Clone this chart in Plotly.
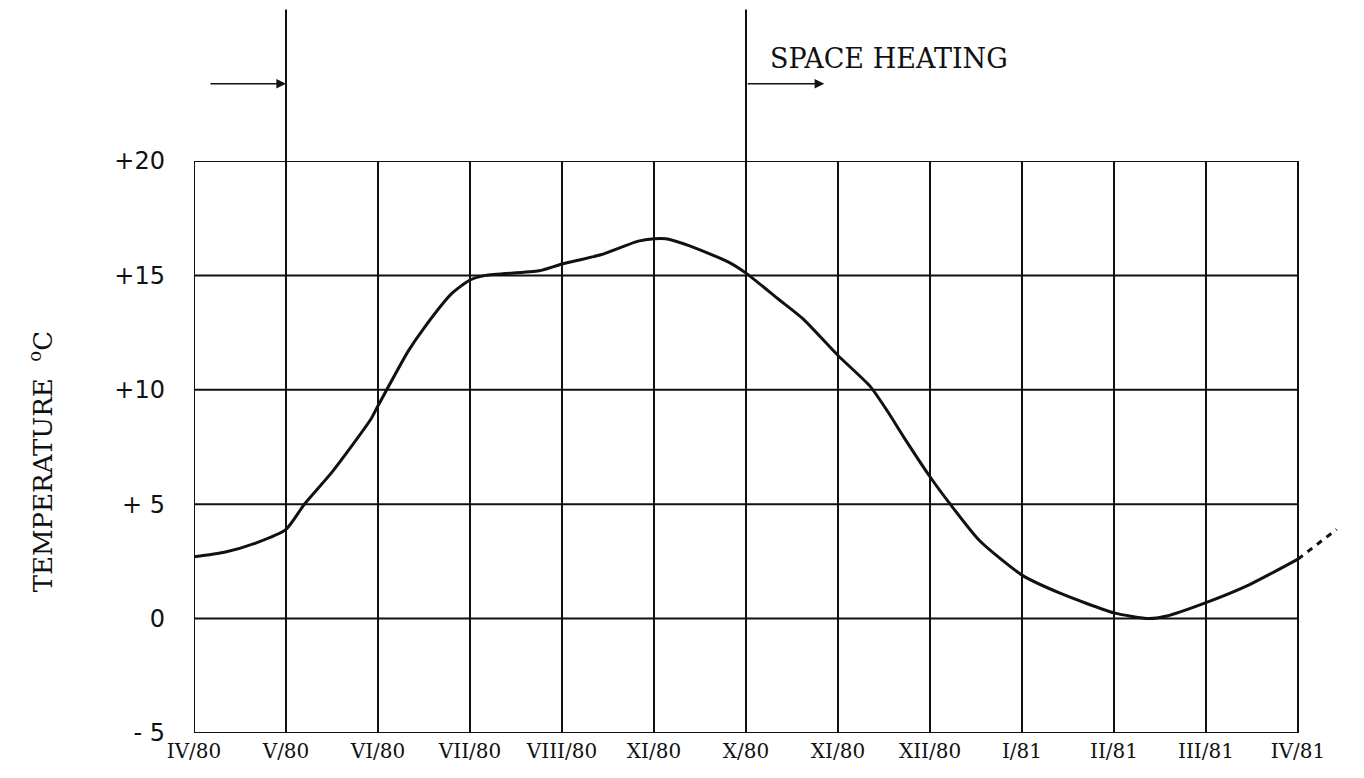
import plotly.graph_objects as go

# ---- data ----
months = ["IV/80", "V/80", "VI/80", "VII/80", "VIII/80", "XI/80", "X/80",
          "XI/80", "XII/80", "I/81", "II/81", "III/81", "IV/81"]
month_pos = list(range(len(months)))

y_ticks = [-5, 0, 5, 10, 15, 20]
y_tick_text = ["- 5", "0", "+ 5", "+10", "+15", "+20"]

# monthly mean temperature curve (month index from IV/80)
curve_x = [0, 0.33, 0.67, 1.0, 1.2, 1.5, 1.92, 2.0, 2.33, 2.5, 2.8, 3.0, 3.17,
           3.75, 4.0, 4.42, 4.83, 5.0, 5.13, 5.38, 5.8, 6.0, 6.34, 6.62, 7.0,
           7.35, 7.54, 7.72, 8.0, 8.22, 8.54, 9.0, 9.42, 10.0, 10.38, 10.56,
           11.0, 11.48, 12.0]
curve_t = [2.7, 2.9, 3.3, 3.9, 5.0, 6.4, 8.7, 9.3, 11.7, 12.7, 14.2, 14.8, 15.0,
           15.2, 15.5, 15.9, 16.5, 16.6, 16.6, 16.3, 15.6, 15.1, 14.0, 13.1, 11.5,
           10.15, 9.05, 7.9, 6.2, 5.0, 3.4, 1.9, 1.1, 0.25, 0.0, 0.1,
           0.7, 1.5, 2.6]

# dashed extrapolation beyond IV/81
ext_x = [12.0, 12.42]
ext_t = [2.6, 3.9]

heating_end = 1     # V/80
heating_start = 6   # X/80
arrow_len = 0.85    # months

INK = "#111111"

fig = go.Figure()

fig.add_trace(go.Scatter(
    x=curve_x, y=curve_t, mode="lines",
    line=dict(color=INK, width=3, shape="spline", smoothing=0.6),
    showlegend=False, hoverinfo="skip"))

fig.add_trace(go.Scatter(
    x=ext_x, y=ext_t, mode="lines",
    line=dict(color=INK, width=3, dash="6px,6px"),
    showlegend=False, hoverinfo="skip"))

shapes = []
# horizontal grid / frame lines, only across the 12 months
for yv in y_ticks:
    shapes.append(dict(type="line", xref="x", yref="y", x0=0, x1=12, y0=yv, y1=yv,
                       line=dict(color=INK, width=2), layer="below"))
# left frame line
shapes.append(dict(type="line", xref="x", yref="y", x0=0, x1=0, y0=-5, y1=20,
                   line=dict(color=INK, width=2), layer="below"))
# heating period markers extending above the plot
for m in (heating_end, heating_start):
    shapes.append(dict(type="line", xref="x", yref="paper", x0=m, x1=m, y0=0, y1=1.265,
                       line=dict(color=INK, width=2)))

annotations = [
    dict(x=heating_end, y=1.135, xref="x", yref="paper", text="", showarrow=True,
         ax=-77, ay=0, arrowhead=2, arrowsize=1.2, arrowwidth=1.6, arrowcolor=INK),
    dict(x=heating_start + arrow_len, y=1.135, xref="x", yref="paper", text="",
         showarrow=True, ax=-78, ay=0, arrowhead=2, arrowsize=1.2, arrowwidth=1.6,
         arrowcolor=INK),
    dict(x=heating_start, y=1.18, xref="x", yref="paper", text="SPACE HEATING",
         showarrow=False, xanchor="left", yanchor="middle", xshift=22,
         font=dict(family="DejaVu Serif", size=27, color=INK)),
    dict(x=-0.133, y=0.475, xref="paper", yref="paper",
         text="TEMPERATURE  <sup>o</sup>C", showarrow=False, textangle=-90,
         xanchor="center", yanchor="middle",
         font=dict(family="DejaVu Serif", size=26, color=INK)),
]

fig.update_layout(
    width=1356, height=770,
    margin=dict(l=186, r=20, t=153, b=45),
    paper_bgcolor="white", plot_bgcolor="white",
    shapes=shapes, annotations=annotations,
    xaxis=dict(range=[0, 12.5], tickmode="array", tickvals=month_pos, ticktext=months,
               showgrid=True, gridcolor=INK, gridwidth=2, zeroline=False,
               showline=False, ticks="", ticklabelstandoff=4,
               tickfont=dict(family="DejaVu Serif", size=20, color=INK)),
    yaxis=dict(range=[-5, 20], tickmode="array", tickvals=y_ticks, ticktext=y_tick_text,
               showgrid=False, zeroline=False, showline=False, ticks="",
               ticklabelstandoff=28,
               tickfont=dict(family="DejaVu Sans", size=24, color=INK)),
)

fig.write_html("out.html")
